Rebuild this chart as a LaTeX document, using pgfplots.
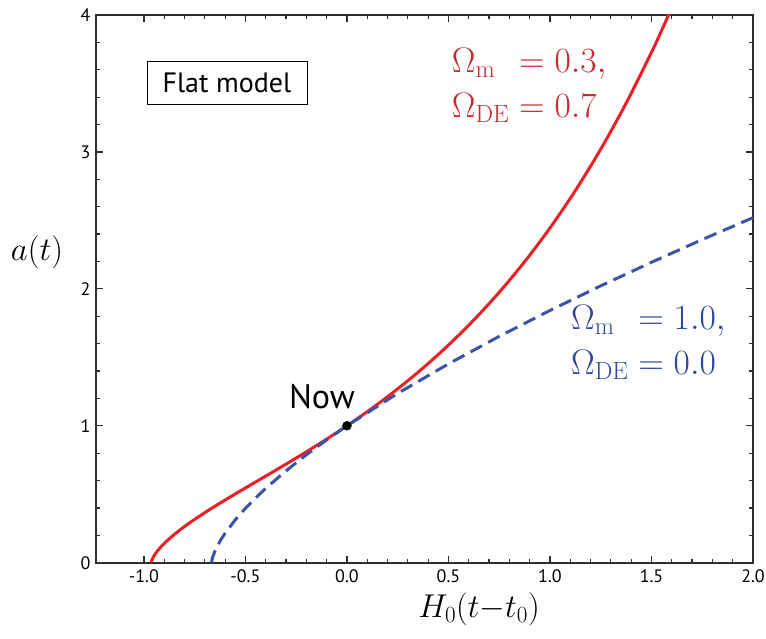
\RequirePackage{fix-cm}
\documentclass[border=0pt]{standalone}
\usepackage{fontspec}
\usepackage{amsmath}
\usepackage{pgfplots}
\pgfplotsset{compat=1.18}
\newfontfamily\labelfont{PT Sans}

\definecolor{lcdmred}{RGB}{235,32,38}
\definecolor{edsblue}{RGB}{58,84,168}
\definecolor{lcdmtext}{RGB}{200,40,46}
\definecolor{edstext}{RGB}{44,70,155}
\definecolor{axisgray}{RGB}{45,45,45}

% Flat LambdaCDM, Omega_m = 0.3, Omega_DE = 0.7 : scale factor vs H0 (t - t0)
\pgfplotstableread{
x a
-0.9641 0
-0.96 0.0224
-0.95 0.0511
-0.94 0.0731
-0.93 0.0922
-0.90 0.1406
-0.85 0.2068
-0.80 0.2642
-0.75 0.3164
-0.70 0.3655
-0.65 0.4123
-0.60 0.4577
-0.55 0.5020
-0.50 0.5458
-0.40 0.6326
-0.30 0.7200
-0.20 0.8096
-0.10 0.9026
0.00 1.0000
0.125 1.1296
0.25 1.2697
0.375 1.4222
0.50 1.5893
0.625 1.7728
0.75 1.9748
0.875 2.1979
1.00 2.4446
1.125 2.7177
1.25 3.0202
1.375 3.3554
1.50 3.7274
1.55 3.8872
1.60 4.0539
}\lcdm

% Einstein-de Sitter, Omega_m = 1.0
\pgfplotstableread{
x a
-0.6667 0
-0.665 0.0184
-0.66 0.0464
-0.65 0.0855
-0.64 0.1170
-0.62 0.1700
-0.60 0.2154
-0.55 0.3130
-0.50 0.3970
-0.45 0.4727
-0.40 0.5430
-0.30 0.6710
-0.20 0.7880
-0.10 0.8970
0.00 1.0000
0.25 1.2365
0.50 1.4520
0.75 1.6530
1.00 1.8420
1.25 2.0220
1.50 2.1940
1.75 2.3600
2.00 2.5200
}\eds

% two-line parameter label, symbols flush left, equals signs aligned
\newcommand{\params}[2]{%
  $\begin{array}{@{}l@{}l@{}}
    \Omega_{\mathrm{m}} & {}= #1,\\
    \Omega_{\mathrm{DE}} & {}= #2
  \end{array}$}

\begin{document}
\begin{tikzpicture}
\begin{axis}[
  name=ax,
  scale only axis,
  width=657pt, height=547.7pt,
  xmin=-1.236, xmax=2.0, ymin=0, ymax=4,
  xtick={-1,-0.5,0,0.5,1,1.5,2},
  xticklabels={-1.0,-0.5,0.0,0.5,1.0,1.5,2.0},
  ytick={0,1,2,3,4},
  yticklabels={0,1,2,3,4},
  minor x tick num=4, minor y tick num=4,
  tick align=inside,
  major tick length=7pt, minor tick length=4pt,
  axis line style={axisgray, line width=1.6pt},
  every tick/.style={axisgray, line width=1.2pt},
  tick label style={font=\labelfont\fontsize{18}{21}\selectfont, text=black},
  /pgf/number format/assume math mode=true,
  xticklabel style={yshift=-3pt},
  yticklabel style={xshift=-2pt},
  clip mode=individual,
]
\addplot[lcdmred, line width=3pt, smooth] table[x=x, y=a] {\lcdm};
\addplot[edsblue, line width=3pt, dash pattern=on 13pt off 7pt] table[x=x, y=a] {\eds};
\addplot[only marks, mark=*, mark size=4.5pt, black] coordinates {(0,1)};

\node[font=\labelfont\fontsize{34}{40}\selectfont] at (axis cs:-0.123,1.21) {Now};
\node[draw=black, line width=0.9pt, minimum width=160pt, minimum height=42.6pt,
      inner sep=0pt, font=\labelfont\fontsize{28}{32}\selectfont]
      at (axis cs:-0.591,3.505) {Flat model};

\node[anchor=west, inner sep=0pt, text=lcdmtext, font=\fontsize{35.5}{45}\selectfont]
  at (axis cs:0.516,3.485) {\params{0.3}{0.7}};
\node[anchor=west, inner sep=0pt, text=edstext, font=\fontsize{35.5}{45}\selectfont]
  at (axis cs:1.103,1.608) {\params{1.0}{0.0}};

\node[font=\fontsize{33}{40}\selectfont] at (rel axis cs:0.583,0) [yshift=-47pt] {$H_0(t{-}t_0)$};
\node[font=\fontsize{33}{40}\selectfont] at (rel axis cs:0,0.567) [xshift=-59pt] {$a(t)$};
\end{axis}
\pgfresetboundingbox
\path ([shift={(-96pt,-75.3pt)}]ax.south west) rectangle ([shift={(13pt,15pt)}]ax.north east);
\end{tikzpicture}
\end{document}
